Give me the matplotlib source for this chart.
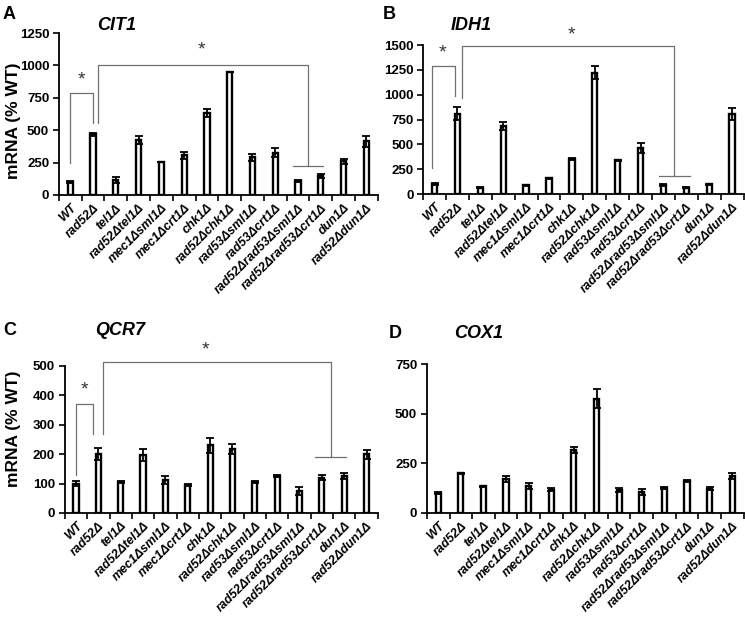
import numpy as np
import matplotlib
matplotlib.use('Agg')
import matplotlib.pyplot as plt

plt.rcParams['font.family'] = ['Liberation Sans', 'DejaVu Sans']

# Strains (x categories), same for every panel
strains = ['WT', 'rad52Δ', 'tel1Δ', 'rad52Δtel1Δ', 'mec1Δsml1Δ', 'mec1Δcrt1Δ',
           'chk1Δ', 'rad52Δchk1Δ', 'rad53Δsml1Δ', 'rad53Δcrt1Δ',
           'rad52Δrad53Δsml1Δ', 'rad52Δrad53Δcrt1Δ', 'dun1Δ', 'rad52Δdun1Δ']

# mRNA (% WT) means and errors
cit1 = [100, 470, 115, 425, 255, 305, 630, 950, 290, 325, 108, 145, 260, 415]
cit1_err = [5, 12, 20, 32, 3, 28, 30, 3, 28, 35, 4, 16, 20, 42]
idh1 = [100, 810, 65, 685, 90, 160, 350, 1220, 340, 460, 90, 65, 100, 805]
idh1_err = [8, 65, 5, 38, 5, 5, 12, 65, 5, 50, 12, 5, 4, 62]
qcr7 = [100, 200, 105, 198, 112, 95, 230, 218, 105, 125, 75, 120, 127, 200]
qcr7_err = [10, 20, 2, 20, 12, 2, 25, 17, 2, 4, 13, 8, 10, 15]
cox1 = [100, 200, 135, 172, 135, 118, 315, 575, 115, 105, 125, 163, 122, 185]
cox1_err = [4, 3, 3, 16, 15, 8, 15, 48, 10, 17, 4, 5, 8, 16]

# significance brackets: (x_left, y_left, y_top, x_right, y_right), star (x, y)
# plus the short line under the right leg (x_from, x_to)
brk_a = [((0.0, 245, 790, 1.0, 552), (0.48, 885), None),
         ((1.22, 552, 1000, 10.43, 226), (5.76, 1117), (9.76, 11.1))]
brk_b = [((-0.1, 261, 1289, 0.89, 988), (0.34, 1416), None),
         ((1.21, 964, 1490, 10.47, 177), (6.0, 1600), (9.8, 11.15))]
brk_c = [((0.0, 128, 371, 0.75, 268), (0.38, 419), None),
         ((1.19, 268, 512, 11.4, 190), (5.8, 553), (10.7, 12.1))]

fig = plt.figure(figsize=(7.45, 6.18), dpi=100)


def panel(rect, vals, errs, ymax, ystep, letter, gene, brackets, ylab_xy, letter_xy, gene_xy):
    ax = fig.add_axes(rect)
    x = np.arange(len(strains))
    ax.bar(x, vals, width=0.23, color='white', edgecolor='black', linewidth=1.7, zorder=2)
    ax.errorbar(x, vals, yerr=errs, fmt='none', ecolor='black', elinewidth=1.3,
                capsize=3, capthick=1.3, zorder=3)
    ax.set_xlim(-0.5, len(strains) - 0.5)
    ax.set_ylim(0, ymax)
    ax.set_yticks(np.arange(0, ymax + 1, ystep))
    ax.tick_params(axis='y', direction='out', length=4, width=1.2, labelsize=9.5, pad=3)
    for t in ax.get_yticklabels():
        t.set_fontweight('bold')
    ax.set_xticks(x)
    ax.set_xticklabels(strains, rotation=45, ha='right', rotation_mode='anchor',
                       fontsize=9, fontweight='bold', fontstyle='italic')
    ax.tick_params(axis='x', which='major', length=0, pad=5)
    ax.set_xticks(np.arange(-0.5, len(strains)), minor=True)
    ax.tick_params(axis='x', which='minor', direction='out', length=4, width=1.2)
    for s in ['top', 'right']:
        ax.spines[s].set_visible(False)
    for s in ['left', 'bottom']:
        ax.spines[s].set_linewidth(1.3)
    if ylab_xy:
        ax.set_ylabel('mRNA (% WT)', fontsize=12.5, fontweight='bold')
        ax.yaxis.set_label_coords(ylab_xy[0], ylab_xy[1])
    for (x0, y0, yt, x1, y1), (sx, sy), short in brackets:
        ax.plot([x0, x0, x1, x1], [y0, yt, yt, y1], color='#707070', lw=0.9,
                clip_on=False, zorder=1)
        if short:
            ax.plot([short[0], short[1]], [y1, y1], color='#707070', lw=0.9,
                    clip_on=False, zorder=1)
        ax.text(sx, sy, '*', ha='center', va='center', fontsize=14, color='#333333')
    fig.text(letter_xy[0], letter_xy[1], letter, fontsize=13, fontweight='bold',
             ha='left', va='center')
    fig.text(gene_xy[0], gene_xy[1], gene, fontsize=13, fontweight='bold',
             fontstyle='italic', ha='left', va='center')
    return ax


panel([0.079, 0.6845, 0.428, 0.262], cit1, cit1_err, 1250, 250, 'A', 'CIT1', brk_a,
      (-0.12, 0.46), (0.004, 0.977), (0.130, 0.958))
panel([0.568, 0.686, 0.430, 0.241], idh1, idh1_err, 1500, 250, 'B', 'IDH1', brk_b,
      None, (0.514, 0.977), (0.605, 0.958))
panel([0.087, 0.170, 0.420, 0.238], qcr7, qcr7_err, 500, 100, 'C', 'QCR7', brk_c,
      (-0.14, 0.57), (0.004, 0.466), (0.128, 0.466))
panel([0.573, 0.170, 0.425, 0.241], cox1, cox1_err, 750, 250, 'D', 'COX1', [],
      None, (0.522, 0.461), (0.610, 0.461))

fig.savefig('out.png', dpi=100)
